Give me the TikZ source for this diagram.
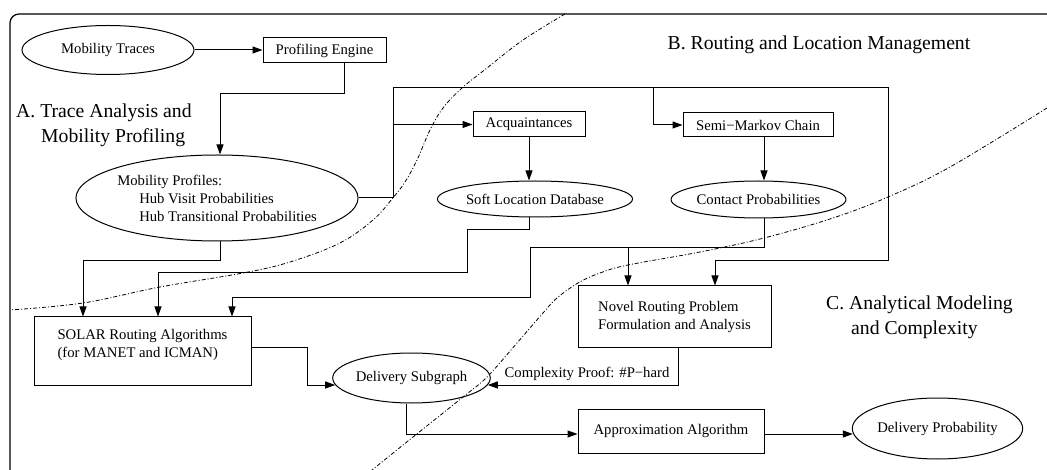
\documentclass[tikz,border=0pt]{standalone}
\usepackage{fontspec}
\setmainfont{Liberation Serif}
\usetikzlibrary{shapes.geometric,arrows.meta}
\begin{document}
\begin{tikzpicture}[x=1pt,y=-1pt,
  every node/.style={font=\fontsize{14.7}{18}\selectfont, inner sep=0pt},
  ell/.style={ellipse, draw, line width=1pt},
  box/.style={rectangle, draw, line width=1pt},
  arr/.style={line width=1pt, -{Triangle[length=10pt,width=7pt]}},
  region/.style={font=\fontsize{19.7}{25}\selectfont, align=left},
  divider/.style={line width=0.8pt, dash pattern=on 4pt off 2pt on 1pt off 2pt},
  frame/.style={line width=1.2pt, rounded corners=9pt}]
\useasboundingbox (0,0) rectangle (1047,470);
\clip (0,0) rectangle (1047,470);
\fill[white] (0,0) rectangle (1047,470);
% frame
\draw[frame] (10,490) -- (10,14) -- (1070,14);
% dividers
\draw[divider] plot[smooth, tension=0.6] coordinates {(565,14) (523,40) (487,68) (462,88) (443,108) (430,130) (417,160) (405,182) (392,199) (373,220) (340,243) (290,262) (243,273) (160,287) (83,303) (10,310)};
\draw[divider] plot[smooth, tension=0.6] coordinates {(1047,108) (950,167) (888,197) (833,218) (764,238) (700,252) (628,265) (600,273) (578,283) (557,298) (543,313) (517,343) (487,377) (463,397) (413,437) (372,470)};
% region labels
\node[region, anchor=west] (la) at (16,125.5) {A. Trace Analysis and\\\hspace*{25pt}Mobility Profiling};
\node[region] (lb) at (819,45) {B. Routing and Location Management};
\node[region, anchor=west] (lc) at (826,317.5) {C. Analytical Modeling\\\hspace*{25pt}and Complexity};
% nodes
\node[ell, minimum width=172pt, minimum height=49pt] (mt) at (108,50) {Mobility Traces};
\node[box, minimum width=123pt, minimum height=25pt] (pe) at (324.5,50.5) {Profiling Engine};
\node[ell, minimum width=274pt, minimum height=86pt, align=left] (mp) at (217,198) {Mobility Profiles:\\\hspace*{22pt}Hub Visit Probabilities\\\hspace*{22pt}Hub Transitional Probabilities};
\node[box, minimum width=112pt, minimum height=25pt] (acq) at (529,124.5) {Acquaintances};
\node[ell, minimum width=186pt, minimum height=36pt] (sld) at (535,199) {Soft Location Database};
\node[box, minimum width=150pt, minimum height=24pt] (smc) at (758,125) {Semi−Markov Chain};
\node[ell, minimum width=161pt, minimum height=37pt] (cp) at (758.5,199.5) {Contact Probabilities};
\node[box, minimum width=217pt, minimum height=68pt, align=left] (solar) at (142.5,351) {SOLAR Routing Algorithms\\(for MANET and ICMAN)\\[-8pt]\strut};
\node[ell, minimum width=149pt, minimum height=50pt] (ds) at (411.5,378) {Delivery Subgraph};
\node[box, minimum width=193pt, minimum height=62pt, align=left] (nrp) at (674.5,317) {Novel Routing Problem\\Formulation and Analysis};
\node[box, minimum width=186pt, minimum height=44pt] (aa) at (671,431) {Approximation Algorithm};
\node[ell, minimum width=161pt, minimum height=61pt] (dp) at (937.5,428.5) {Delivery Probability};
\node (lbl) at (587,374) {Complexity Proof: \#P−hard};
% connectors
\draw[arr] (mt.east) -- (pe.west |- mt.east);
\draw[arr] (pe.south -| 344,0) |- (220,94) -- (mp.north -| 220,0);
\draw[arr] (mp.east) -- (393,198) |- (888,88) |- (715,261) -- (nrp.north -| 715,0);
\draw[arr] (393,124.5) -- (acq.west);
\draw[arr] (653,88) |- (smc.west);
\draw[arr] (acq.south -| 529,0) -- (sld.north -| 529,0);
\draw[arr] (smc.south -| 764,0) -- (cp.north -| 764,0);
\draw[arr] (mp.south -| 220,0) |- (83,261) -- (solar.north -| 83,0);
\draw[arr] (sld.south -| 529,0) |- (467,230) |- (158,273) -- (solar.north -| 158,0);
\draw[arr] (cp.south -| 764,0) |- (530,248) |- (232,298) -- (solar.north -| 232,0);
\draw[arr] (628,248) -- (nrp.north -| 628,0);
\draw[arr] (solar.east |- 0,348) -| (307,385) -- ([xshift=3pt]ds.west |- 0,385);
\draw[arr] (nrp.south -| 678,0) |- ([xshift=-3pt]ds.east |- 0,385);
\draw[arr] (ds.south -| 406,0) |- (aa.west |- 0,434);
\draw[arr] (aa.east |- 0,434) -- ([xshift=1pt]dp.west |- 0,434);
\end{tikzpicture}
\end{document}
